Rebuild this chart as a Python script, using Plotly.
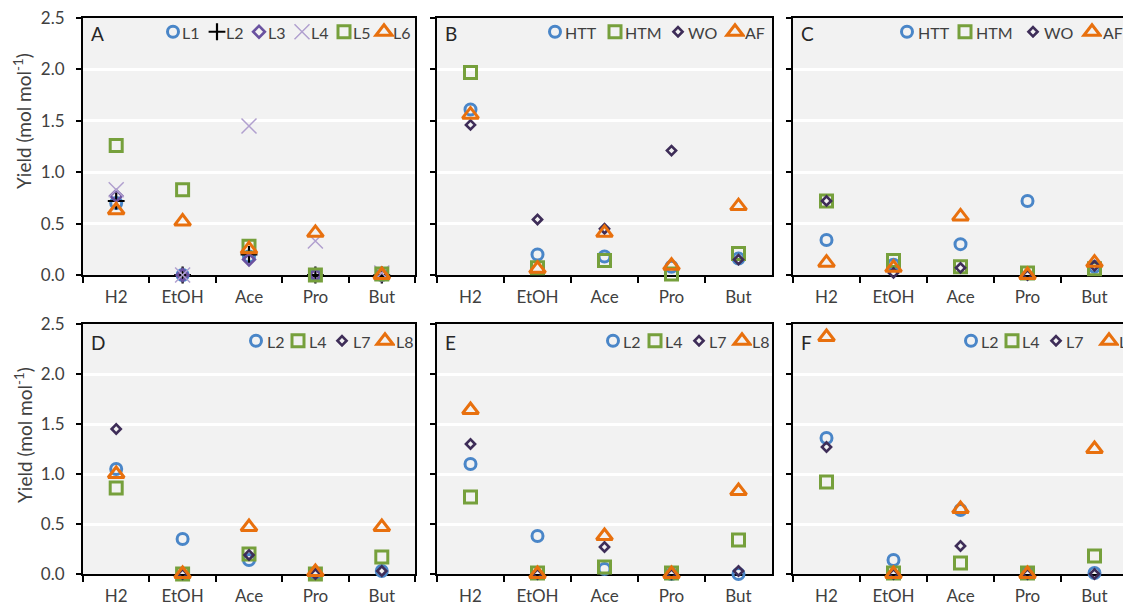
import plotly.graph_objects as go

# ---------------- data ----------------
categories = ["H2", "EtOH", "Ace", "Pro", "But"]
y_tick_vals = [0.0, 0.5, 1.0, 1.5, 2.0, 2.5]
y_tick_text = ["0.0", "0.5", "1.0", "1.5", "2.0", "2.5"]
panel_letters = ["A", "B", "C", "D", "E", "F"]

# Panel A
a_L1 = [0.70, 0.00, 0.18, 0.00, 0.00]
a_L2 = [0.72, 0.00, 0.20, 0.00, 0.00]
a_L3 = [0.77, 0.00, 0.15, 0.00, 0.00]
a_L4 = [0.83, 0.00, 1.45, 0.33, 0.02]
a_L5 = [1.26, 0.83, 0.28, 0.00, 0.01]
a_L6 = [0.63, 0.52, 0.25, 0.41, 0.00]

# Panel B
b_HTT = [1.61, 0.20, 0.18, 0.08, 0.16]
b_HTM = [1.97, 0.07, 0.14, 0.01, 0.21]
b_WO = [1.46, 0.54, 0.45, 1.21, 0.15]
b_AF = [1.56, 0.06, 0.41, 0.09, 0.67]

# Panel C
c_HTT = [0.34, 0.10, 0.30, 0.72, 0.08]
c_HTM = [0.72, 0.14, 0.08, 0.02, 0.06]
c_WO = [0.72, 0.02, 0.07, 0.00, 0.09]
c_AF = [0.12, 0.07, 0.57, 0.00, 0.12]

# Panel D
d_L2 = [1.05, 0.35, 0.14, 0.00, 0.03]
d_L4 = [0.86, 0.00, 0.20, 0.00, 0.17]
d_L7 = [1.45, 0.00, 0.19, 0.00, 0.03]
d_L8 = [1.00, 0.00, 0.47, 0.02, 0.47]

# Panel E
e_L2 = [1.10, 0.38, 0.05, 0.00, 0.00]
e_L4 = [0.77, 0.01, 0.07, 0.01, 0.34]
e_L7 = [1.30, 0.00, 0.27, 0.00, 0.03]
e_L8 = [1.64, 0.00, 0.38, 0.00, 0.83]

# Panel F
f_L2 = [1.36, 0.14, 0.64, 0.01, 0.01]
f_L4 = [0.92, 0.01, 0.11, 0.01, 0.18]
f_L7 = [1.27, 0.00, 0.28, 0.00, 0.00]
f_L8 = [2.37, 0.00, 0.65, 0.00, 1.25]

# ---------------- styles ----------------
STY = {
    "circle": dict(symbol="circle-open", size=11, color="#4A86C8", width=3),
    "plus": dict(symbol="cross-thin-open", size=12, color="#000000", width=2.2),
    "diamond_p": dict(symbol="diamond-open", size=9, color="#6A52A0", width=2.6),
    "x": dict(symbol="x-thin-open", size=15, color="#B1A0CF", width=1.5),
    "square": dict(symbol="square-open", size=12, color="#76A03C", width=3),
    "triangle": dict(symbol="triangle-up-open", size=14, color="#E8700E", width=3),
    "diamond_d": dict(symbol="diamond-open", size=7, color="#3E2D58", width=2.6),
}

panels = [
    [("L1", a_L1, "circle"), ("L2", a_L2, "plus"), ("L3", a_L3, "diamond_p"),
     ("L4", a_L4, "x"), ("L5", a_L5, "square"), ("L6", a_L6, "triangle")],
    [("HTT", b_HTT, "circle"), ("HTM", b_HTM, "square"), ("WO", b_WO, "diamond_d"), ("AF", b_AF, "triangle")],
    [("HTT", c_HTT, "circle"), ("HTM", c_HTM, "square"), ("WO", c_WO, "diamond_d"), ("AF", c_AF, "triangle")],
    [("L2", d_L2, "circle"), ("L4", d_L4, "square"), ("L7", d_L7, "diamond_d"), ("L8", d_L8, "triangle")],
    [("L2", e_L2, "circle"), ("L4", e_L4, "square"), ("L7", e_L7, "diamond_d"), ("L8", e_L8, "triangle")],
    [("L2", f_L2, "circle"), ("L4", f_L4, "square"), ("L7", f_L7, "diamond_d"), ("L8", f_L8, "triangle")],
]

# ---------------- layout (pixels) ----------------
W, H = 1123, 609
FONT = "Lato, Carlito, Calibri, sans-serif"
TXT = "#404040"

col_px = [(83, 415), (437, 772), (793, 1128)]
row_px = [(18, 275), (324, 574)]
# legend symbol centres (px) and label offsets, per panel
legend_sym_px = [
    [173, 217, 259, 302, 344, 384],
    [555, 615, 678, 735],
    [907, 965, 1033, 1092],
    [256, 298, 342, 385],
    [613, 655, 699, 742],
    [971, 1012, 1056, 1109],
]
legend_txt_off = [7, 8, 9, 9, 8, 8]
legend_y_px = [32, 32, 32, 341, 341, 341]

fig = go.Figure()
layout = dict(
    width=W, height=H,
    margin=dict(l=0, r=0, t=0, b=0, autoexpand=False),
    paper_bgcolor="white", plot_bgcolor="rgba(0,0,0,0)",
    font=dict(family=FONT, size=16, color=TXT),
    annotations=[],
)

for i, series in enumerate(panels):
    r, c = divmod(i, 3)
    ax = "" if i == 0 else str(i + 1)
    x0, x1 = col_px[c]
    y0, y1 = row_px[r]
    x_end = min(x1, W)
    cat_w = (x1 - x0) / len(categories)
    rng_end = -0.5 + (x_end - x0) / cat_w
    lg = "legend" if i == 0 else "legend%d" % (i + 1)
    syms = legend_sym_px[i]

    for k, (name, vals, sty) in enumerate(series):
        s = STY[sty]
        gap = (syms[k + 1] - syms[k]) if k + 1 < len(syms) else 30
        fig.add_trace(go.Scatter(
            x=categories, y=vals, mode="markers", name="",
            hovertemplate=name + ": %{y}<extra></extra>",
            xaxis="x" + ax, yaxis="y" + ax, legend=lg,
            cliponaxis=False, legendwidth=gap / W,
            marker=dict(symbol=s["symbol"], size=s["size"], color=s["color"],
                        line=dict(color=s["color"], width=s["width"])),
        ))
        # legend label text next to its symbol
        layout["annotations"].append(dict(
            text=name, xref="paper", yref="paper",
            x=(syms[k] + legend_txt_off[i]) / W, y=1 - legend_y_px[i] / H,
            xanchor="left", yanchor="middle", showarrow=False,
            font=dict(family=FONT, size=16, color=TXT),
        ))

    cut = x1 > W
    layout["xaxis" + ax] = dict(
        domain=[x0 / W, x_end / W], anchor="y" + ax,
        type="category", categoryorder="array", categoryarray=categories,
        range=[-0.5, rng_end], tickson="boundaries",
        ticks="outside", ticklen=6, tickwidth=1.5, tickcolor="black",
        showline=True, linecolor="black", linewidth=2, mirror=True,
        showgrid=False, zeroline=False, layer="below traces",
        tickfont=dict(family=FONT, size=17, color=TXT), ticklabelstandoff=6,
        fixedrange=True,
    )
    layout["yaxis" + ax] = dict(
        domain=[1 - y1 / H, 1 - y0 / H], anchor="x" + ax,
        range=[0, 2.5], tickvals=y_tick_vals, ticktext=y_tick_text,
        showticklabels=(c == 0),
        ticks="outside", ticklen=5, tickwidth=1.5, tickcolor="black",
        showline=True, linecolor="black", linewidth=2, mirror=(not cut),
        showgrid=True, gridcolor="white", gridwidth=2.5, zeroline=False,
        layer="below traces",
        tickfont=dict(family=FONT, size=17, color=TXT), ticklabelstandoff=8,
        fixedrange=True,
    )
    layout[lg] = dict(
        orientation="h", x=(syms[0] - 20) / W, xanchor="left",
        y=1 - legend_y_px[i] / H, yanchor="middle",
        bgcolor="rgba(0,0,0,0)", borderwidth=0,
        entrywidthmode="fraction",
        font=dict(family=FONT, size=15, color=TXT),
        itemclick=False, itemdoubleclick=False,
    )
    fig.add_shape(type="rect", xref="x%s domain" % ax, yref="y%s domain" % ax,
                  x0=0, x1=1, y0=0, y1=1, fillcolor="#F2F2F2", line=dict(width=0),
                  layer="below")
    layout["annotations"].append(dict(
        text=panel_letters[i], xref="paper", yref="paper",
        x=(x0 + 6) / W, y=1 - (legend_y_px[i] + 1) / H,
        xanchor="left", yanchor="middle", showarrow=False,
        font=dict(family=FONT, size=19, color="#262626"),
    ))

for ty in [121, 435]:
    layout["annotations"].append(dict(
        text="Yield (mol mol<sup>-1</sup>)", xref="paper", yref="paper",
        x=23 / W, y=1 - ty / H, xanchor="center", yanchor="middle",
        textangle=-90, showarrow=False,
        font=dict(family=FONT, size=19, color=TXT),
    ))

fig.update_layout(**layout)
fig.write_html("out.html", config={"displayModeBar": False})
